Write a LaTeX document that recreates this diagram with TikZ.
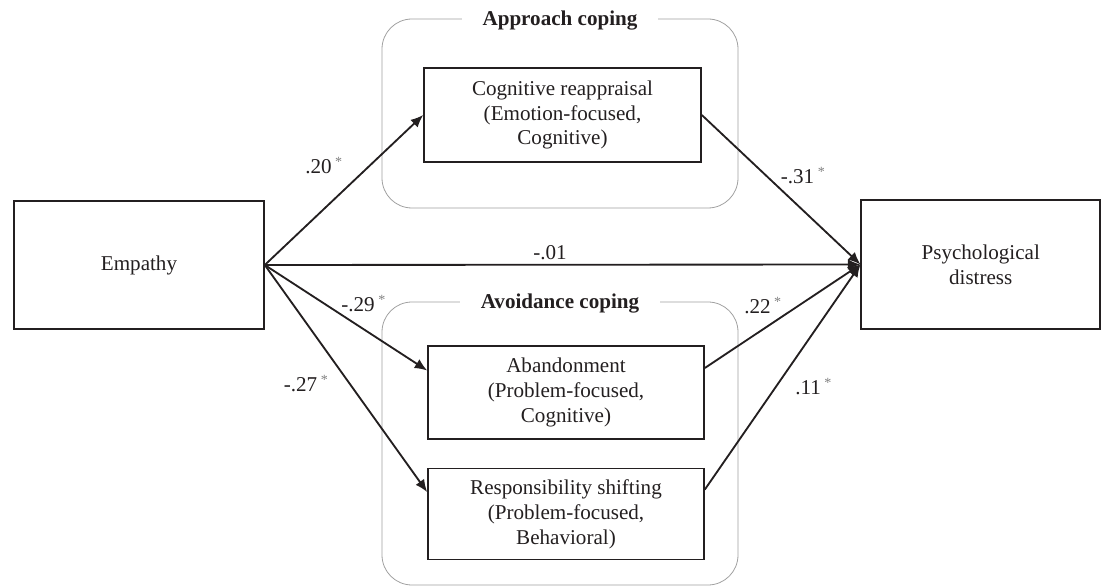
\documentclass[tikz,border=0pt]{standalone}
\usepackage{fontspec}
\setmainfont{Liberation Serif}
\usepackage{tikz}
\usetikzlibrary{arrows.meta,positioning}
\definecolor{ink}{HTML}{231F20}
\definecolor{frame}{HTML}{A0A0A0}
\newcommand{\sig}{\,\textsuperscript{\textcolor{gray}{*}}}

\begin{document}
\begin{tikzpicture}[font=\fontsize{12}{14.2}\selectfont,text=ink,
  box/.style={draw=ink,line width=0.9pt,align=center,inner sep=0pt},
  group/.style={draw=frame,line width=0.45pt,rounded corners=0.6cm,minimum width=7.12cm,inner sep=0pt},
  grouptitle/.style={fill=white,font=\fontsize{12}{14.2}\selectfont\bfseries,inner xsep=0.42cm,inner ysep=1pt},
  link/.style={-{Latex[length=2.5mm,width=2.1mm]},draw=ink,line width=1.05pt},
  coef/.style={anchor=base west,inner sep=0pt}]
\useasboundingbox (0,0) rectangle (22.02,-11.76);
% coping groups
\node[group,minimum height=3.78cm] (appr) at (11.20,-2.27) {};
\node[group,minimum height=5.66cm] (avoid) at (11.20,-8.87) {};
\node[grouptitle] (apprtitle) at ([yshift=-0.04cm]appr.north) {Approach coping};
\node[grouptitle] (avoidtitle) at ([yshift=-0.04cm]avoid.north) {Avoidance coping};
% variables
\node[box,minimum width=5cm,minimum height=2.56cm] (emp) at (2.78,-5.30) {Empathy};
\node[box,minimum width=4.78cm,minimum height=2.58cm] (psych) at (19.615,-5.29) {Psychological\\distress};
\node[box,minimum width=5.54cm,minimum height=1.88cm] (cog) at (11.25,-2.30) {Cognitive reappraisal\\(Emotion-focused,\\Cognitive)};
\node[box,minimum width=5.52cm,minimum height=1.86cm] (aband) at (11.32,-7.85) {Abandonment\\(Problem-focused,\\Cognitive)};
\node[box,minimum width=5.52cm,minimum height=1.82cm,below=0.56cm of aband] (resp) {Responsibility shifting\\(Problem-focused,\\Behavioral)};
% paths
\draw[link] (emp.east) -- (cog.west);
\draw[link] (emp.east) -- (psych.west);
\draw[link] (emp.east) -- (aband.171);
\draw[link] (emp.east) -- (resp.171);
\draw[link] (cog.east) -- (psych.west);
\draw[link] (aband.10) -- (psych.west);
\draw[link] (resp.10) -- (psych.west);
% coefficients
\node[coef] (c20) at (6.10,-3.48) {.20\sig};
\node[coef] (c29) at (6.82,-6.24) {-.29\sig};
\node[coef] (c27) at (5.67,-7.84) {-.27\sig};
\node[coef,anchor=base] (c01) at (11.00,-5.20) {-.01};
\node[coef] (c31) at (15.61,-3.68) {-.31\sig};
\node[coef] (c22) at (14.88,-6.28) {.22\sig};
\node[coef] (c11) at (15.90,-7.90) {.11\sig};
\end{tikzpicture}
\end{document}
